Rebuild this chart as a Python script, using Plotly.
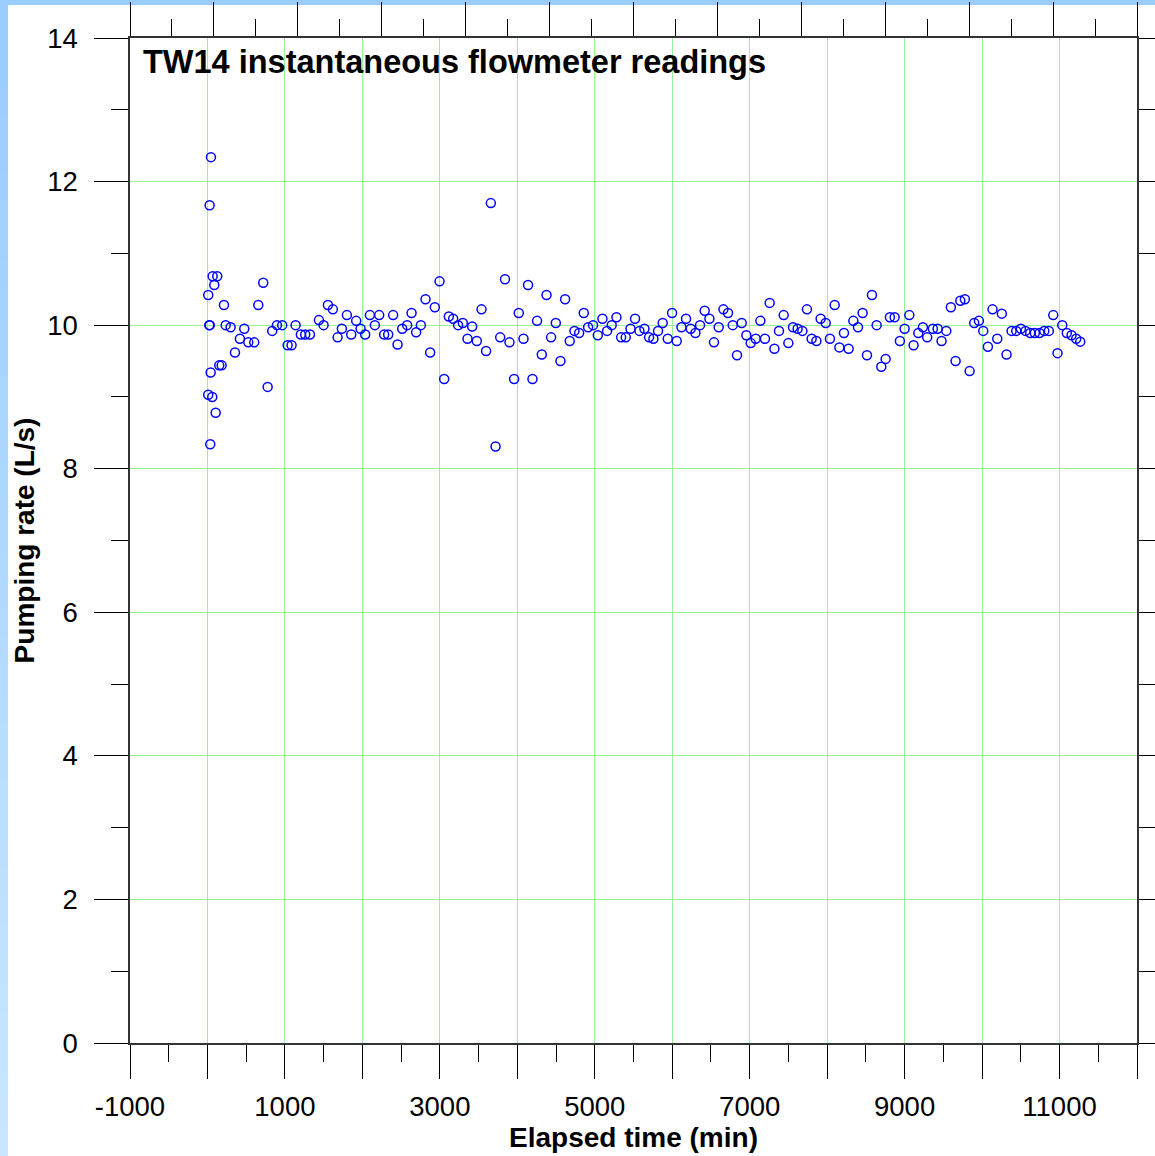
import plotly.graph_objects as go

elapsed_min = [10, 67, 126, 88, 23, 30, 41, 10, 62, 106, 36, 45, 28,
    152, 183, 213, 235, 299, 355, 419, 475, 527, 604, 656, 720, 777, 836, 897, 965,
    1035, 1086, 1138, 1206, 1262, 1323, 1439, 1499, 1555, 1619, 1680, 1735, 1800, 1856,
    1920, 1977, 2036, 2097, 2161, 2217, 2281, 2333, 2397, 2454, 2514, 2578, 2635, 2694,
    2755, 2815, 2875, 2935, 2996, 3056, 3116, 3172, 3236, 3297, 3357, 3417, 3477, 3538,
    3597, 3658, 3719, 3779, 3841, 3899, 3959, 4019, 4080, 4139, 4196, 4255, 4316, 4377,
    4436, 4497, 4557, 4617, 4677, 4738, 4798, 4858, 4914, 4978, 5039, 5099, 5159, 5219,
    5280, 5340, 5400, 5461, 5520, 5577, 5641, 5701, 5757, 5817, 5877, 5942, 5998, 6058,
    6119, 6178, 6239, 6299, 6359, 6419, 6480, 6539, 6600, 6661, 6720, 6781, 6836, 6897,
    6957, 7013, 7077, 7138, 7197, 7258, 7319, 7378, 7439, 7499, 7559, 7619, 7680, 7739,
    7800, 7861, 7916, 7981, 8036, 8097, 8158, 8217, 8277, 8338, 8398, 8458, 8514, 8578,
    8639, 8699, 8755, 8810, 8871, 8939, 9000, 9061, 9116, 9177, 9236, 9292, 9365, 9426,
    9477, 9538, 9597, 9658, 9719, 9778, 9839, 9899, 9959, 10015, 10075, 10135, 10196,
    10255, 10316, 10381, 10441, 10501, 10561, 10622, 10681, 10742, 10803, 10862, 10919,
    10974, 11035, 11094, 11155, 11215, 11267]

pumping_rate = [10.42, 10.68, 10.68, 10.56, 10.0, 10.0, 9.34, 9.03, 9.00, 8.78, 8.34, 12.34, 11.67,
    9.44, 9.44, 10.28, 10.0, 9.97, 9.62, 9.81, 9.95, 9.76, 9.76, 10.28, 10.59, 9.14, 9.92, 10.0, 10.0,
    9.72, 9.72, 10.0, 9.87, 9.87, 9.87, 10.07, 10.0, 10.28, 10.22, 9.83, 9.95, 10.14, 9.87,
    10.06, 9.95, 9.87, 10.14, 10.0, 10.14, 9.87, 9.87, 10.14, 9.73, 9.95, 10.0, 10.17, 9.9,
    10.0, 10.36, 9.62, 10.25, 10.61, 9.25, 10.12, 10.09, 10.0, 10.03, 9.81, 9.98, 9.78, 10.22,
    9.64, 11.70, 8.31, 9.83, 10.64, 9.76, 9.25, 10.17, 9.81, 10.56, 9.25, 10.06, 9.59, 10.42,
    9.83, 10.03, 9.5, 10.36, 9.78, 9.92, 9.89, 10.17, 9.97, 10.0, 9.86, 10.09, 9.92, 10.0,
    10.11, 9.83, 9.83, 9.95, 10.09, 9.92, 9.95, 9.83, 9.81, 9.92, 10.03, 9.81, 10.17, 9.78,
    9.97, 10.09, 9.95, 9.89, 10.0, 10.2, 10.09, 9.76, 9.97, 10.22, 10.17, 10.0, 9.58, 10.03,
    9.86, 9.75, 9.81, 10.06, 9.81, 10.31, 9.67, 9.92, 10.14, 9.75, 9.97, 9.95, 9.92, 10.22,
    9.81, 9.78, 10.09, 10.03, 9.81, 10.28, 9.69, 9.89, 9.67, 10.06, 9.97, 10.17, 9.58, 10.42,
    10.0, 9.42, 9.53, 10.11, 10.11, 9.78, 9.95, 10.14, 9.72, 9.89, 9.97, 9.83, 9.95, 9.95,
    9.78, 9.92, 10.25, 9.5, 10.34, 10.36, 9.36, 10.03, 10.06, 9.92, 9.70, 10.22, 9.81,
    10.16, 9.59, 9.92, 9.92, 9.95, 9.92, 9.89, 9.89, 9.89, 9.92, 9.92, 10.14,
    9.61, 10.0, 9.89, 9.86, 9.81, 9.77]

x_tickvals = list(range(-1000, 12001, 1000))
x_ticktext = [str(v) if v in (-1000, 1000, 3000, 5000, 7000, 9000, 11000) else "" for v in x_tickvals]
y_tickvals = list(range(0, 15, 2))
y_ticktext = [str(v) for v in y_tickvals]

title_text = "TW14 instantaneous flowmeter readings"
x_title = "Elapsed time (min)"
y_title = "Pumping rate (L/s)"

FONT = "Liberation Sans, Arial, sans-serif"
GRID = "#99f099"
W, H = 1155, 1156
ML, MR, MT, MB = 130, 18, 38, 113
PW, PH = W - ML - MR, H - MT - MB

def px_x(p):
    return (p - ML) / PW

def px_y(p):
    return (H - MB - p) / PH

fig = go.Figure()
fig.add_trace(go.Scatter(
    x=elapsed_min, y=pumping_rate, mode="markers",
    marker=dict(symbol="circle-open", size=9, color="#0000ff",
                line=dict(width=1.5, color="#0000ff")),
    showlegend=False, hoverinfo="x+y"))
fig.add_trace(go.Scatter(x=[None], y=[None], xaxis="x2", showlegend=False,
                         hoverinfo="skip", mode="markers"))

shapes = []
# top band
shapes.append(dict(type="rect", xref="paper", yref="paper", x0=px_x(0), x1=px_x(W),
                   y0=px_y(5), y1=px_y(0), fillcolor="#99ccff", line=dict(width=0), layer="below"))
# left gradient band
n = 40
c0 = (0x99, 0xcc, 0xff)
c1 = (0xc8, 0xe6, 0xff)
for i in range(n):
    t = i / (n - 1)
    col = "rgb(%d,%d,%d)" % tuple(round(a + (b - a) * t) for a, b in zip(c0, c1))
    y0p = H * i / n
    y1p = H * (i + 1) / n + 1
    shapes.append(dict(type="rect", xref="paper", yref="paper", x0=px_x(0), x1=px_x(8),
                       y0=px_y(y1p), y1=px_y(y0p), fillcolor=col, line=dict(width=0), layer="below"))

TICKFS = 27.5

fig.update_layout(
    width=W, height=H,
    margin=dict(l=ML, r=MR, t=MT, b=MB, pad=0, autoexpand=False),
    paper_bgcolor="white", plot_bgcolor="white",
    font=dict(family=FONT, color="black", size=26),
    shapes=shapes,
    xaxis=dict(
        automargin=False,
        range=[-1000, 12000], tickmode="array", tickvals=x_tickvals, ticktext=x_ticktext,
        ticks="outside", ticklen=34, tickwidth=1.2, tickcolor="black",
        ticklabelstandoff=4,
        minor=dict(tickmode="linear", tick0=-1000, dtick=500, ticks="outside", ticklen=17,
                   tickwidth=1.2, tickcolor="black", showgrid=False),
        showgrid=True, gridcolor=GRID, gridwidth=1, zeroline=False,
        showline=True, linecolor="#333", linewidth=1.5, mirror=False,
        tickfont=dict(size=TICKFS, family=FONT),
        title=dict(text="<b>" + x_title + "</b>", font=dict(size=28, family=FONT), standoff=7),
    ),
    xaxis2=dict(
        automargin=False,
        overlaying="x", side="top", range=[0, 12], tickmode="linear", tick0=0, dtick=1,
        ticks="outside", ticklen=34, tickwidth=1.2, tickcolor="black",
        minor=dict(tickmode="linear", tick0=0, dtick=0.5, ticks="outside", ticklen=17,
                   tickwidth=1.2, tickcolor="black", showgrid=False),
        showticklabels=False, showgrid=False, zeroline=False,
        showline=True, linecolor="#333", linewidth=1.5,
    ),
    yaxis=dict(
        automargin=False,
        range=[0, 14], tickmode="array", tickvals=y_tickvals, ticktext=y_ticktext,
        ticks="outside", ticklen=34, tickwidth=1.2, tickcolor="black",
        ticklabelstandoff=11,
        minor=dict(tickmode="linear", tick0=0, dtick=1, ticks="outside", ticklen=17,
                   tickwidth=1.2, tickcolor="black", showgrid=False),
        showgrid=True, gridcolor=GRID, gridwidth=1, zeroline=False,
        showline=True, linecolor="#333", linewidth=1.5, mirror="ticks",
        tickfont=dict(size=TICKFS, family=FONT),
        title=dict(text="<b>" + y_title + "</b>", font=dict(size=28, family=FONT), standoff=4),
    ),
    annotations=[dict(
        text="<b>" + title_text + "</b>", xref="paper", yref="paper",
        x=px_x(141), y=px_y(62), xanchor="left", yanchor="middle", showarrow=False,
        font=dict(size=32.5, family=FONT, color="black"))],
)

fig.write_html("out.html")
